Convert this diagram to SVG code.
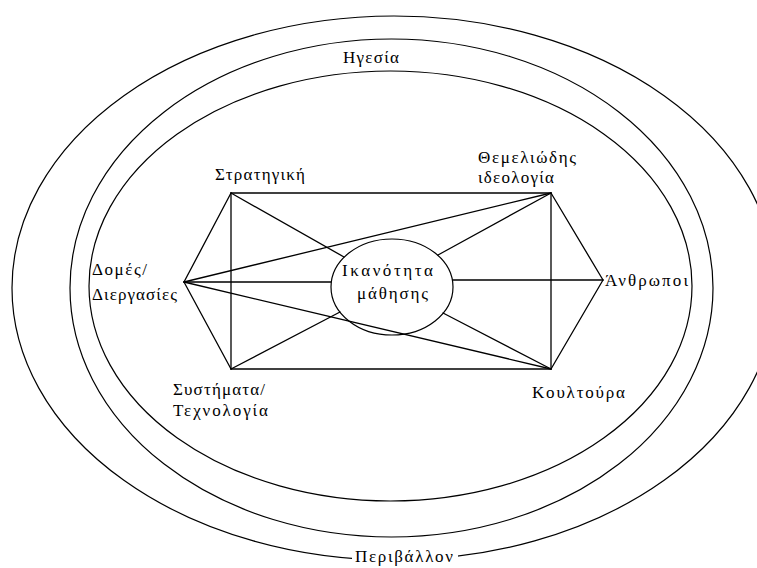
<svg xmlns="http://www.w3.org/2000/svg" width="757" height="568" viewBox="0 0 757 568">
<style>
  .ring { fill: none; stroke: #000; stroke-width: 1.2; }
  .core { fill: #fff; stroke: #000; stroke-width: 1.2; }
  .conn line { stroke: #000; stroke-width: 1.3; stroke-linecap: round; }
  text { font-family: "Liberation Serif", "DejaVu Serif", serif; font-size: 17px; fill: #000; }
</style>
<rect x="0" y="0" width="757" height="568" fill="#fff"/>

<g id="ring-environment">
  <ellipse class="ring" cx="394" cy="288" rx="382" ry="272"/>
  <rect x="352" y="546" width="106" height="22" fill="#fff"/>
  <text x="355" y="561.5" textLength="98" lengthAdjust="spacing">Περιβάλλον</text>
</g>
<g id="ring-leadership">
  <ellipse class="ring" cx="391.5" cy="288" rx="321.5" ry="249"/>
  <text x="343" y="62.5" textLength="56" lengthAdjust="spacing">Ηγεσία</text>
</g>
<g id="ring-inner">
  <ellipse class="ring" cx="390.5" cy="286" rx="301.5" ry="215"/>
</g>

<g id="connectors" class="conn">
  <!-- rectangle -->
  <line x1="231" y1="193" x2="551" y2="193"/>
  <line x1="231" y1="369" x2="551" y2="369"/>
  <line x1="231" y1="193" x2="231" y2="369"/>
  <line x1="551" y1="193" x2="551" y2="369"/>
  <!-- from Δομές/Διεργασίες -->
  <line x1="184" y1="282" x2="231" y2="193"/>
  <line x1="184" y1="282" x2="231" y2="369"/>
  <line x1="184" y1="282" x2="551" y2="193"/>
  <line x1="184" y1="282" x2="551" y2="369"/>
  <line x1="184" y1="282" x2="331" y2="282"/>
  <!-- from Άνθρωποι -->
  <line x1="603" y1="280" x2="551" y2="193"/>
  <line x1="603" y1="280" x2="551" y2="369"/>
  <line x1="603" y1="280" x2="453" y2="280"/>
  <!-- corners to centre -->
  <line x1="231" y1="193" x2="344" y2="257"/>
  <line x1="551" y1="193" x2="438" y2="255"/>
  <line x1="231" y1="369" x2="340" y2="312"/>
  <line x1="551" y1="369" x2="443" y2="313"/>
</g>

<g id="node-learning">
  <ellipse class="core" cx="392" cy="287" rx="61" ry="48" fill-opacity="0"/>
  <text x="342" y="276" textLength="91" lengthAdjust="spacing">Ικανότητα</text>
  <text x="357" y="299" textLength="71" lengthAdjust="spacing">μάθησης</text>
</g>
<g id="node-strategy">
  <text x="215" y="179.5" textLength="90" lengthAdjust="spacing">Στρατηγική</text>
</g>
<g id="node-ideology">
  <text x="478" y="163" textLength="98" lengthAdjust="spacing">Θεμελιώδης</text>
  <text x="478" y="183" textLength="76" lengthAdjust="spacing">ιδεολογία</text>
</g>
<g id="node-structures">
  <text x="92" y="275" textLength="55" lengthAdjust="spacing">Δομές/</text>
  <text x="92" y="299.5" textLength="85" lengthAdjust="spacing">Διεργασίες</text>
</g>
<g id="node-people">
  <text x="605" y="286" textLength="83" lengthAdjust="spacing">Άνθρωποι</text>
</g>
<g id="node-systems">
  <text x="173" y="395" textLength="92" lengthAdjust="spacing">Συστήματα/</text>
  <text x="173" y="416" textLength="95" lengthAdjust="spacing">Τεχνολογία</text>
</g>
<g id="node-culture">
  <text x="532" y="398" textLength="93" lengthAdjust="spacing">Κουλτούρα</text>
</g>
</svg>
